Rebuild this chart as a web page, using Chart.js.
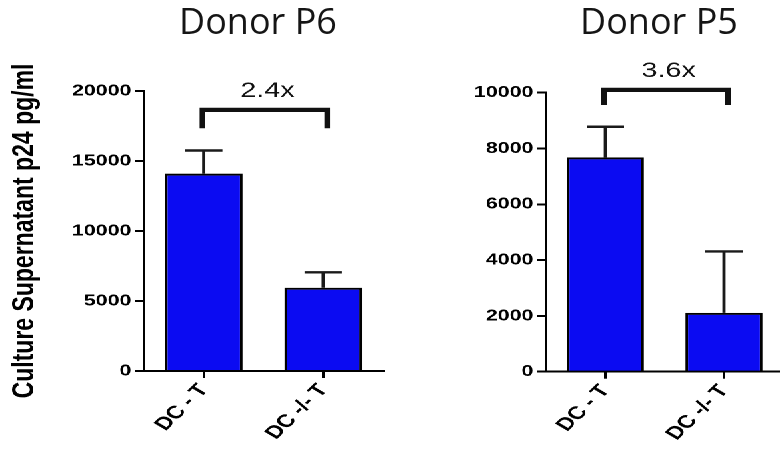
<!DOCTYPE html>
<html>
<head>
<meta charset="utf-8">
<script src="https://cdn.jsdelivr.net/npm/chart.js@4"></script>
<style>
  html, body { margin: 0; padding: 0; background: #fff; width: 780px; height: 454px; overflow: hidden; }
  /* the whole figure is a horizontally stretched graph */
  #stage { position: absolute; left: 0; top: 0; width: 600px; height: 454px; transform: scaleX(1.3333); transform-origin: 0 0; }
  #stage canvas { position: absolute; top: 0; }
  #chartP6 { left: 0; }
  #chartP5 { left: 300px; }
  .title { position: absolute; top: 3px; width: 300px; text-align: center; font: 36px "Open Sans", sans-serif; line-height: 36px; color: #151515; }
</style>
</head>
<body>
<div id="stage">
  <canvas id="chartP6" width="300" height="454"></canvas>
  <canvas id="chartP5" width="300" height="454"></canvas>
</div>
<div class="title" style="left:108px">Donor P6</div>
<div class="title" style="left:509px">Donor P5</div>

<script>
// DATA

const CATEGORIES = ["DC - T", "DC -/- T"];

const P6_VALUES = [14100, 5950];
const P6_ERRORS = [1650, 1100];
const P6_TICKS = [0, 5000, 10000, 15000, 20000];

const P5_VALUES = [7680, 2110];
const P5_ERRORS = [1100, 2200];
const P5_TICKS = [0, 2000, 4000, 6000, 8000, 10000];

const FOLD_CHANGES = ["2.4x", "3.6x"];

const Y_TITLE = "Culture Supernatant p24 pg/ml";
const FONT = "'Liberation Sans', Arial, sans-serif";

// PLUGINS

// SD bars, drawn upward from the top of each bar
const errorBars = {
  id: "errorBars",
  afterDatasetsDraw(chart, args, opts) {
    const ctx = chart.ctx;
    const y = chart.scales.y;
    const values = chart.data.datasets[0].data;
    ctx.save();
    ctx.strokeStyle = "#1a1a1a";
    ctx.lineWidth = 2.4;
    chart.getDatasetMeta(0).data.forEach((bar, i) => {
      const top = y.getPixelForValue(values[i] + opts.errors[i]);
      ctx.beginPath();
      ctx.moveTo(bar.x, bar.y);
      ctx.lineTo(bar.x, top);
      ctx.moveTo(bar.x - 14, top);
      ctx.lineTo(bar.x + 14, top);
      ctx.stroke();
    });
    ctx.restore();
  }
};

// fold change bracket over the two bars
const bracket = {
  id: "bracket",
  afterDraw(chart, args, opts) {
    const ctx = chart.ctx;
    const x = chart.scales.x;
    const y = chart.scales.y;
    const x0 = x.getPixelForValue(0) - 1;
    const x1 = x.getPixelForValue(1) + 3;
    const yTop = y.getPixelForValue(opts.top);
    const yLeg = y.getPixelForValue(opts.leg);
    ctx.save();
    ctx.strokeStyle = "#111";
    ctx.lineWidth = 4.2;
    ctx.lineJoin = "miter";
    ctx.beginPath();
    ctx.moveTo(x0, yLeg);
    ctx.lineTo(x0, yTop);
    ctx.lineTo(x1, yTop);
    ctx.lineTo(x1, yLeg);
    ctx.stroke();
    ctx.fillStyle = "#111";
    ctx.font = "21.5px " + FONT;
    ctx.textAlign = "center";
    ctx.textBaseline = "middle";
    ctx.fillText(opts.label, (x0 + x1) / 2 + 2, yTop - 19);
    ctx.restore();
  }
};

// CHART FUNCTION

function buildChart(canvasId, values, errors, ticks, fold, showTitle, frame) {
  new Chart(document.getElementById(canvasId), {
    type: "bar",
    data: {
      labels: CATEGORIES,
      datasets: [{
        data: values,
        backgroundColor: "#0b0bf2",
        borderColor: "#000",
        borderWidth: 2,
        barPercentage: 0.65,
        categoryPercentage: 1
      }]
    },
    plugins: [errorBars, bracket],
    options: {
      responsive: false,
      animation: false,
      devicePixelRatio: 2,
      layout: { padding: { top: frame.top, left: 0, right: frame.right, bottom: 0 } },
      plugins: {
        legend: { display: false },
        tooltip: { enabled: false },
        errorBars: { errors: errors },
        bracket: fold
      },
      scales: {
        x: {
          grid: { drawOnChartArea: false, offset: false, tickLength: 7, tickWidth: 2, lineWidth: 2, tickColor: "#000", color: "#000" },
          border: { color: "#000", width: 2 },
          ticks: { color: "#000", font: { family: FONT, size: 18, weight: "bold" }, minRotation: 52, maxRotation: 52, padding: 2 },
          afterFit: scale => { scale.height = frame.xHeight; }
        },
        y: {
          min: ticks[0],
          max: ticks[ticks.length - 1],
          grid: { drawOnChartArea: false, tickLength: 7, tickWidth: 2, lineWidth: 2, tickColor: "#000", color: "#000" },
          border: { color: "#000", width: 2 },
          ticks: {
            stepSize: ticks[1] - ticks[0],
            color: "#000",
            padding: 2.5,
            font: { family: FONT, size: 16, weight: "bold" },
            callback: value => String(value)
          },
          title: {
            display: showTitle,
            text: Y_TITLE,
            color: "#000",
            padding: { top: 5, bottom: 0 },
            font: { family: FONT, size: 23, weight: "bold" }
          },
          afterFit: scale => { scale.width = frame.yWidth; }
        }
      }
    }
  });
}

// INIT

buildChart("chartP6", P6_VALUES, P6_ERRORS, P6_TICKS,
  { top: 18650, leg: 17340, label: FOLD_CHANGES[0] }, true,
  { top: 91, right: 12.75, xHeight: 83, yWidth: 108 });

buildChart("chartP5", P5_VALUES, P5_ERRORS, P5_TICKS,
  { top: 10100, leg: 9560, label: FOLD_CHANGES[1] }, false,
  { top: 92.7, right: 12.5, xHeight: 82.3, yWidth: 109.5 });
</script>
</body>
</html>
